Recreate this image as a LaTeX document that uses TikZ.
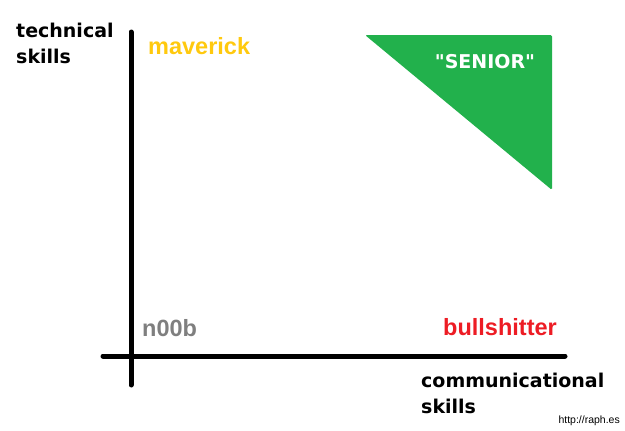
\documentclass[tikz,border=0pt]{standalone}
\usepackage{fontspec}
\setmainfont{Liberation Sans}
\newfontfamily\heavyfont{DejaVu Sans}
\usepackage{tikz}
\usetikzlibrary{
  positioning, % for relative node positioning
  calc, % for position calculations
}
\definecolor{paint-yellow}{RGB}{255, 201, 14}
\definecolor{paint-green}{RGB}{34, 177, 76}
\definecolor{paint-red}{RGB}{237, 28, 36}
\definecolor{paint-gray}{RGB}{127, 127, 127}

\begin{document}
\begin{tikzpicture}[x=1pt, y=-1pt,%
    axis/.style={line width=5pt, line cap=round},%
    axislabel/.style={font=\heavyfont\bfseries\fontsize{19}{26}\selectfont, align=left, inner sep=0pt},%
    quadrant/.style={font=\bfseries\fontsize{23.5}{27}\selectfont, inner sep=0pt},%
    ]
    \useasboundingbox (0,0) rectangle (625,431);
    % axes
    \coordinate (ytop) at (131,32);
    \coordinate (ybot) at (131,385);
    \coordinate (xleft) at (103,356);
    \coordinate (xright) at (565,356);
    \draw[axis] (ytop) -- (ybot);
    \draw[axis] (xleft) -- (xright);
    % senior corner
    \coordinate (tri-a) at (365,35);
    \coordinate (tri-b) at (552,35);
    \coordinate (tri-c) at (552,190);
    \fill[paint-green, rounded corners=1.5pt] (tri-a) -- (tri-b) -- (tri-c) -- cycle;
    % labels
    \node[axislabel, anchor=north west] (techlabel) at (16,23) {technical\\skills};
    \node[axislabel, anchor=north west] (commlabel) at (421,373) {communicational\\skills};
    \node[quadrant, paint-yellow, anchor=west] (maverick) at (148,46) {maverick};
    \node[quadrant, paint-gray, anchor=west] (noob) at (142,328) {n00b};
    \node[quadrant, paint-red, anchor=east] (bullshitter) at (557,327) {bullshitter};
    \node[font=\heavyfont\bfseries\fontsize{19}{23}\selectfont, white, inner sep=0pt] (senior) at (485,62) {"SENIOR"};
    \node[font=\fontsize{10.5}{12}\selectfont, anchor=east, inner sep=0pt] (credit) at (620,421) {http://raph.es};
  \end{tikzpicture}
\end{document}
